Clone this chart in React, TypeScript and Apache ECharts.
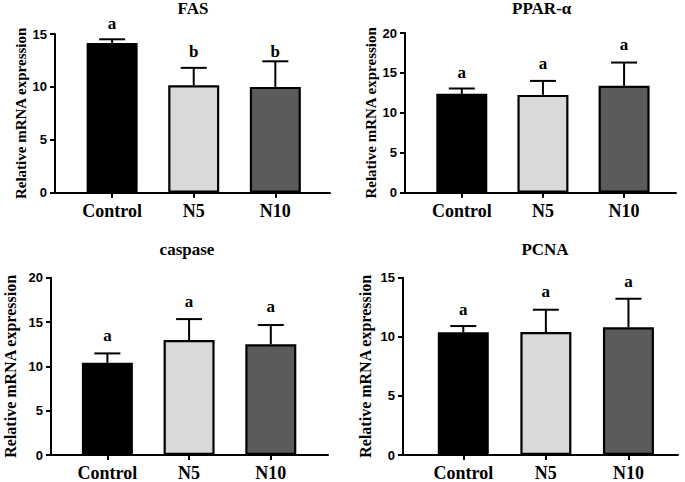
import React, { useEffect, useRef } from "react";
import * as echarts from "echarts";

const CATEGORIES = ["Control", "N5", "N10"];
const PANEL_TITLES = ["FAS", "PPAR-α", "caspase", "PCNA"];
const Y_AXIS_NAME = "Relative mRNA expression";
const Y_MAX = [15, 20, 20, 15];
const Y_INTERVAL = 5;
const BAR_COLORS = ["#000000", "#d9d9d9", "#5b5b5b"];

const FAS_MEAN = [14.15, 10.16, 10.0];
const FAS_SD = [0.35, 1.64, 2.42];
const FAS_LETTERS = ["a", "b", "b"];
const FAS_LETTER_Y = [16.0, 13.3, 13.3];

const PPAR_MEAN = [12.38, 12.25, 13.38];
const PPAR_SD = [0.67, 1.75, 2.92];
const PPAR_LETTERS = ["a", "a", "a"];
const PPAR_LETTER_Y = [15.1, 16.2, 18.5];

const CASP_MEAN = [10.4, 12.97, 12.48];
const CASP_SD = [1.06, 2.36, 2.18];
const CASP_LETTERS = ["a", "a", "a"];
const CASP_LETTER_Y = [13.5, 17.3, 16.7];

const PCNA_MEAN = [10.38, 10.4, 10.8];
const PCNA_SD = [0.53, 1.89, 2.42];
const PCNA_LETTERS = ["a", "a", "a"];
const PCNA_LETTER_Y = [12.27, 13.8, 14.66];

const PANEL_MEANS = [FAS_MEAN, PPAR_MEAN, CASP_MEAN, PCNA_MEAN];
const PANEL_SDS = [FAS_SD, PPAR_SD, CASP_SD, PCNA_SD];
const PANEL_LETTERS = [FAS_LETTERS, PPAR_LETTERS, CASP_LETTERS, PCNA_LETTERS];
const PANEL_LETTER_Y = [FAS_LETTER_Y, PPAR_LETTER_Y, CASP_LETTER_Y, PCNA_LETTER_Y];

// layout (pixels)
const LAYOUT = [
  { left: 55, top: 34, width: 275, height: 158.7, xMin: -0.7, xMax: 2.67, nameGap: 21, nameSize: 15, titleX: 193, titleTop: 0 },
  { left: 405, top: 33, width: 271, height: 159.7, xMin: -0.7, xMax: 2.64, nameGap: 27, nameSize: 15, titleX: 541.7, titleTop: 0 },
  { left: 51, top: 277.7, width: 277, height: 177.3, xMin: -0.69, xMax: 2.7, nameGap: 33, nameSize: 16, titleX: 187, titleTop: 241 },
  { left: 403, top: 277.7, width: 275, height: 177.3, xMin: -0.73, xMax: 2.6, nameGap: 30, nameSize: 16, titleX: 545, titleTop: 241 },
];

const SERIF = "'Liberation Serif', 'Times New Roman', serif";
const SANS = "'Liberation Sans', Arial, sans-serif";

export default function App() {
  const ref = useRef<HTMLDivElement>(null);

  useEffect(() => {
    if (!ref.current) return;
    const chart = echarts.init(ref.current, null, { renderer: "svg" });

    const grids: any[] = [];
    const xAxes: any[] = [];
    const yAxes: any[] = [];
    const titles: any[] = [];
    const series: any[] = [];

    LAYOUT.forEach((L, i) => {
      grids.push({ left: L.left, top: L.top, width: L.width, height: L.height, containLabel: false });
      titles.push({
        text: PANEL_TITLES[i],
        left: L.titleX,
        top: L.titleTop,
        textAlign: "center",
        padding: 0,
        textStyle: { fontFamily: SERIF, fontWeight: "bold", fontSize: 17, color: "#000" },
      });
      xAxes.push({
        type: "value",
        gridIndex: i,
        min: L.xMin,
        max: L.xMax,
        splitLine: { show: false },
        axisLine: { show: true, onZero: true, lineStyle: { color: "#000", width: 2 } },
        axisTick: { show: true, length: 5, customValues: [0, 1, 2], lineStyle: { color: "#000", width: 2 } },
        axisLabel: {
          show: true,
          customValues: [0, 1, 2],
          formatter: (v: number) => CATEGORIES[Math.round(v)] ?? "",
          margin: 9,
          color: "#000",
          fontFamily: SERIF,
          fontWeight: "bold",
          fontSize: 18,
        },
      });
      yAxes.push({
        type: "value",
        gridIndex: i,
        min: 0,
        max: Y_MAX[i],
        interval: Y_INTERVAL,
        name: Y_AXIS_NAME,
        nameLocation: "middle",
        nameRotate: 90,
        nameGap: L.nameGap,
        nameTextStyle: { fontFamily: SERIF, fontWeight: "bold", fontSize: L.nameSize, color: "#000" },
        splitLine: { show: false },
        axisLine: { show: true, onZero: false, lineStyle: { color: "#000", width: 2 } },
        axisTick: { show: true, length: 5, lineStyle: { color: "#000", width: 2 } },
        axisLabel: { margin: 8, color: "#000", fontFamily: SANS, fontWeight: "bold", fontSize: 13 },
      });

      const means = PANEL_MEANS[i];
      const sds = PANEL_SDS[i];
      const letters = PANEL_LETTERS[i];
      const letterY = PANEL_LETTER_Y[i];

      series.push({
        type: "bar",
        xAxisIndex: i,
        yAxisIndex: i,
        barWidth: 51,
        data: means.map((m, k) => ({
          value: [k, m],
          itemStyle: { color: BAR_COLORS[k], borderColor: "#000", borderWidth: 2.2 },
        })),
        z: 2,
      });
      series.push({
        type: "custom",
        xAxisIndex: i,
        yAxisIndex: i,
        clip: false,
        z: 1,
        data: means.map((m, k) => [k, m, sds[k]]),
        encode: { x: 0, y: 1 },
        renderItem: (_params: any, api: any) => {
          const x = api.value(0);
          const m = api.value(1);
          const s = api.value(2);
          const base = api.coord([x, m]);
          const top = api.coord([x, m + s]);
          const half = 13;
          return {
            type: "group",
            children: [
              { type: "line", shape: { x1: base[0], y1: base[1], x2: top[0], y2: top[1] }, style: { stroke: "#000", lineWidth: 2 } },
              { type: "line", shape: { x1: top[0] - half, y1: top[1], x2: top[0] + half, y2: top[1] }, style: { stroke: "#000", lineWidth: 2 } },
            ],
          };
        },
      });
      series.push({
        type: "custom",
        xAxisIndex: i,
        yAxisIndex: i,
        clip: false,
        z: 3,
        data: letterY.map((y, k) => [k, y]),
        encode: { x: 0, y: 1 },
        renderItem: (params: any, api: any) => {
          const p = api.coord([api.value(0), api.value(1)]);
          return {
            type: "text",
            x: p[0],
            y: p[1],
            style: {
              text: letters[params.dataIndex],
              fontFamily: SERIF,
              fontWeight: "bold",
              fontSize: 17,
              fill: "#000",
              align: "center",
              verticalAlign: "middle",
            },
          };
        },
      });
    });

    chart.setOption({
      animation: false,
      backgroundColor: "#fff",
      title: titles,
      grid: grids,
      xAxis: xAxes,
      yAxis: yAxes,
      series,
    });

    return () => chart.dispose();
  }, []);

  return (
    <div
      ref={ref}
      style={{ position: "fixed", left: 0, top: 0, width: 685, height: 482, background: "#fff" }}
    />
  );
}
